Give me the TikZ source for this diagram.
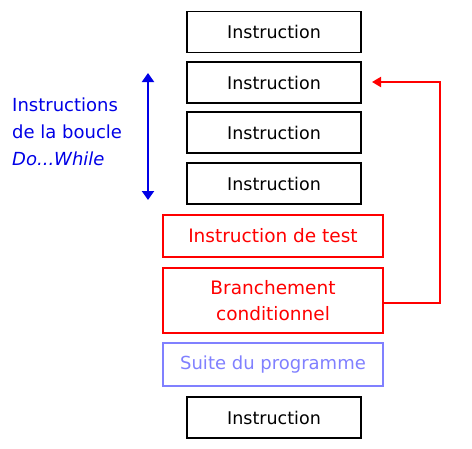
\documentclass[tikz,border=0pt]{standalone}
\usepackage{fontspec}
\setmainfont{DejaVu Sans}
\usetikzlibrary{arrows.meta}
\definecolor{myred}{RGB}{255,0,0}
\definecolor{myblue}{RGB}{0,0,230}
\definecolor{lightblue}{RGB}{128,128,255}
\begin{document}
\begin{tikzpicture}[x=1pt,y=-1pt,
  instr/.style={draw=black,line width=1.5pt,minimum width=174pt,minimum height=41pt,inner sep=0pt,font=\fontsize{17.5}{21}\selectfont},
  redbox/.style={draw=myred,line width=2pt,minimum width=220pt,inner sep=0pt,text=myred,font=\fontsize{18.5}{26}\selectfont,align=center},
  bluebox/.style={draw=lightblue,line width=2pt,minimum width=220pt,minimum height=43pt,inner sep=0pt,text=lightblue,font=\fontsize{18}{21}\selectfont},
  lbl/.style={text=myblue,font=\fontsize{18}{27}\selectfont,align=left,inner sep=0pt}]
\useasboundingbox (0,0) rectangle (472,448);
\node[instr] (i1) at (274,32) {Instruction};
\node[instr] (i2) at (274,82.5) {Instruction};
\node[instr] (i3) at (274,132.5) {Instruction};
\node[instr] (i4) at (274,183.5) {Instruction};
\node[redbox,minimum height=42pt] (t) at (273,236) {Instruction de test};
\node[redbox,minimum height=65pt] (b) at (273,300.5) {Branchement\\conditionnel};
\node[bluebox] (s) at (273,364.5) {Suite du programme};
\node[instr] (i5) at (274,417.5) {Instruction};
\coordinate (ta) at (148,73);
\coordinate (tb) at (148,200);
\draw[myblue,line width=2pt,{Triangle[width=12pt,length=9pt]}-{Triangle[width=12pt,length=9pt]}] (ta) -- (tb);
\node[lbl,anchor=north west] (l) at (12,98) {Instructions\\de la boucle\\\textit{Do...While}};
\coordinate (c1) at (440,303);
\coordinate (c2) at (440,82);
\coordinate (c3) at (372,82);
\draw[myred,line width=2pt,-{Triangle[width=10pt,length=9pt]}] (b.east |- c1) -- (c1) -- (c2) -- (c3);
\end{tikzpicture}
\end{document}
